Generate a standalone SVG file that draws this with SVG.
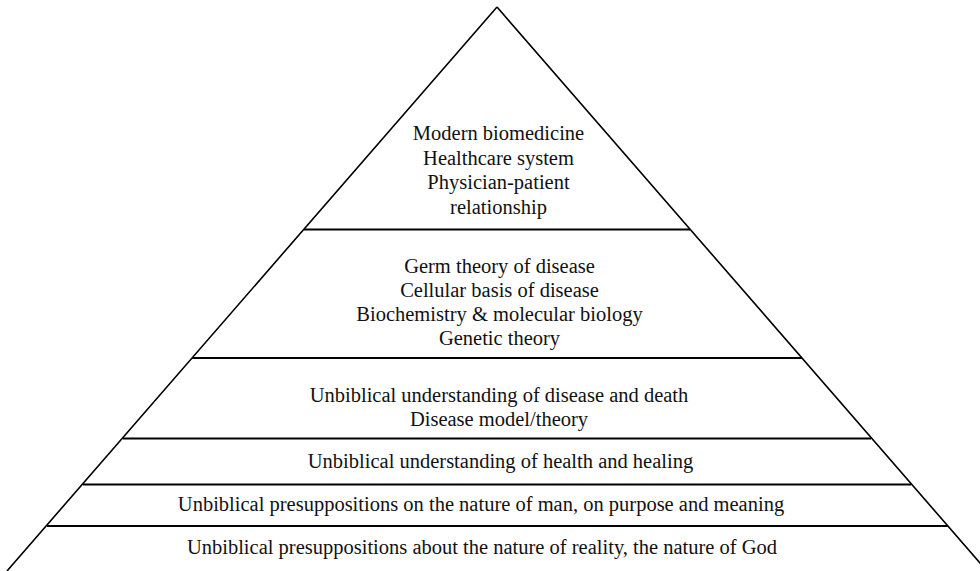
<svg xmlns="http://www.w3.org/2000/svg" width="980" height="571" viewBox="0 0 980 571">
<style>
.t{font-family:"Liberation Serif","Times New Roman",serif;font-size:20.5px;fill:#111;text-anchor:middle}
.s{stroke:#000;stroke-width:1.6;fill:none}
.h{stroke:#000;stroke-width:2;fill:none}
</style>
<rect width="980" height="571" fill="#fff"/>
<g id="connectors">
<path class="s" d="M497,7 L7,571 M497,7 L987,571"/>
<line class="h" x1="304" y1="229.5" x2="690" y2="229.5"/>
<line class="h" x1="192" y1="358" x2="802" y2="358"/>
<line class="h" x1="123" y1="438.5" x2="871" y2="438.5"/>
<line class="h" x1="83" y1="484.5" x2="911" y2="484.5"/>
<line class="h" x1="47" y1="526" x2="948" y2="526"/>
</g>
<g id="tier1">
<text class="t" x="498.5" y="140">Modern biomedicine</text>
<text class="t" x="498.5" y="164.5">Healthcare system</text>
<text class="t" x="498.5" y="189">Physician-patient</text>
<text class="t" x="498.5" y="213.5">relationship</text>
</g>
<g id="tier2">
<text class="t" x="499.5" y="272.5">Germ theory of disease</text>
<text class="t" x="499.5" y="296.5">Cellular basis of disease</text>
<text class="t" x="499.5" y="320.5">Biochemistry &amp; molecular biology</text>
<text class="t" x="499.5" y="344.5">Genetic theory</text>
</g>
<g id="tier3">
<text class="t" x="499" y="402">Unbiblical understanding of disease and death</text>
<text class="t" x="499" y="425.5">Disease model/theory</text>
</g>
<g id="tier4">
<text class="t" x="500.5" y="468">Unbiblical understanding of health and healing</text>
</g>
<g id="tier5">
<text class="t" x="481" y="511">Unbiblical presuppositions on the nature of man, on purpose and meaning</text>
</g>
<g id="tier6">
<text class="t" x="482" y="554">Unbiblical presuppositions about the nature of reality, the nature of God</text>
</g>
</svg>
